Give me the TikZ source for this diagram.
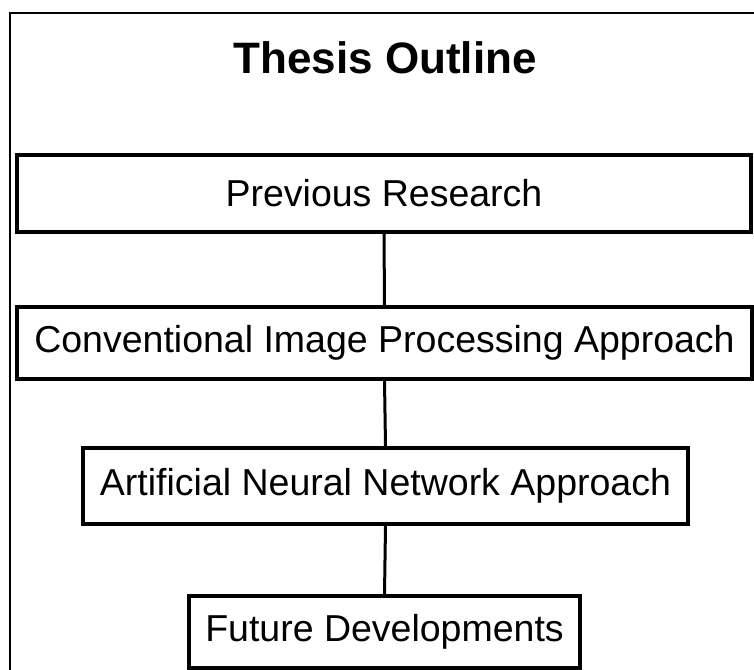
\documentclass[tikz,border=0pt]{standalone}
\usepackage{fontspec}
\setmainfont{Liberation Sans}

\tikzstyle{obj1}=[black, line width = 3.5pt, line join=miter]

\begin{document}
\begin{tikzpicture}[
	x=1pt, y=-1pt,
	box/.style={obj1, draw, fill=white, inner sep=0pt, font=\fontsize{37.5}{40}\selectfont},
	link/.style={obj1, line width=3pt}
	]
	
	\def\cx{385}  % axis of the outline
	
	\useasboundingbox (0,0) rectangle (754,669);
	\clip (0,0) rectangle (754,669);
	\fill[white] (0,0) rectangle (754,669);
	
	% Outer frame, only its left and top edges fall on the page
	\draw[black, line width=2pt] (10,700) -- (10,13) -- (790,13);
	
	\node[font=\bfseries\fontsize{44}{46}\selectfont, anchor=base] (title) at (\cx,74) {Thesis Outline};
	
	\node[box, minimum width=734pt, minimum height=77pt] (prev) at (384,193.5) {Previous Research};
	\node[box, minimum width=735pt, minimum height=72pt] (conv) at (384.5,343) {Conventional Image Processing Approach};
	\node[box, minimum width=605pt, minimum height=76pt] (ann) at (385.5,486) {Artificial Neural Network Approach};
	\node[box, minimum width=391pt, minimum height=72pt] (future) at (384.5,632) {Future Developments};
	
	\draw[link] (prev.south) -- (conv.north);
	\draw[link] (conv.south) -- (ann.north);
	\draw[link] (ann.south) -- (future.north);
	
\end{tikzpicture}
\end{document}
